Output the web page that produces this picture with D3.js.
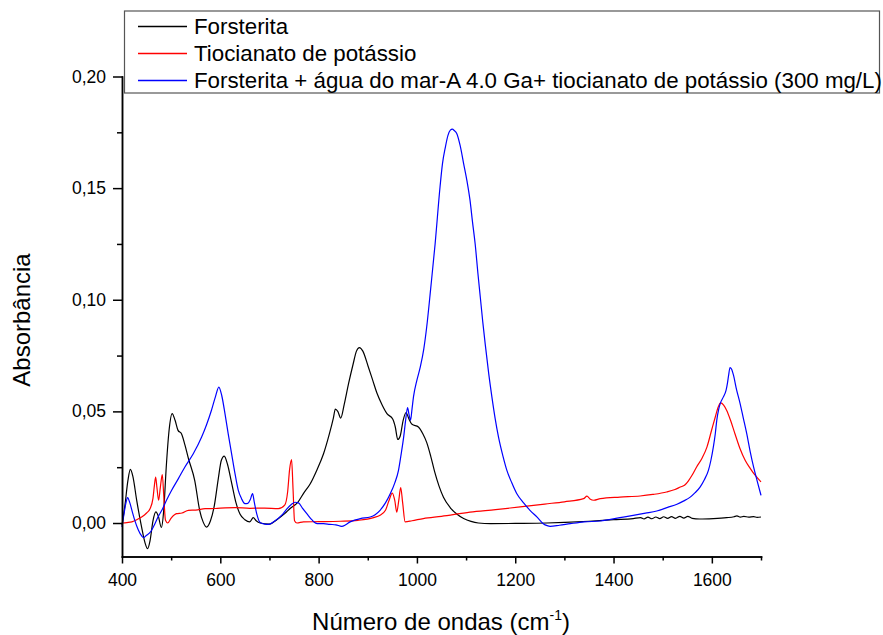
<!DOCTYPE html>
<html>
<head>
<meta charset="utf-8">
<script src="https://cdn.jsdelivr.net/npm/d3@7/dist/d3.min.js"></script>
<style>
  body { margin: 0; background: #fff; }
  svg { font-family: "Liberation Sans", Arial, sans-serif; }
  .axis path, .axis line { stroke: #000; stroke-width: 1.5; }
  .axis text { font-size: 17.5px; fill: #000; }
  .curve { fill: none; stroke-width: 1.2; }
</style>
</head>
<body>
<svg width="883" height="635"></svg>
<script>
// wavenumber (cm-1), absorbance
const forsterita = [
  [400,-0.001],[406,0.008],[412,0.019],[417,0.024],[422,0.021],[430,0.01],[440,-0.002],[447,-0.009],
  [452,-0.0115],[457,-0.008],[463,0.001],[469,0.005],[474,0.003],[480,-0.002],[485,0.006],[490,0.025],
  [496,0.042],[502,0.049],[508,0.046],[514,0.0415],[521,0.040],[528,0.035],[535,0.029],[548,0.019],
  [558,0.0057],[565,0.0005],[572,-0.0018],[580,0.001],[588,0.008],[596,0.020],[602,0.028],[608,0.030],
  [615,0.026],[623,0.018],[632,0.009],[640,0.004],[650,0.0015],[660,0.0005],[667,0.0024],[673,0.001],
  [681,0],[700,-0.0005],[715,0.0015],[731,0.0042],[742,0.0065],[758,0.0094],[770,0.0135],[783,0.0176],
  [797,0.024],[810,0.031],[822,0.040],[830,0.047],[834,0.051],[839,0.05],[845,0.047],[852,0.053],
  [861,0.0625],[870,0.071],[877,0.077],[883,0.0786],[890,0.077],[901,0.070],[910,0.064],[919,0.058],
  [929,0.053],[939,0.049],[951,0.0465],[956,0.043],[961,0.0374],[966,0.039],[972,0.046],[978,0.0495],
  [983,0.047],[990,0.0442],[1003,0.043],[1012,0.040],[1020,0.036],[1028,0.030],[1036,0.023],[1045,0.0165],
  [1054,0.0115],[1068,0.0068],[1081,0.004],[1095,0.002],[1110,0.0007],[1125,0],[1150,-0.0003],[1200,-0.0002],
  [1264,0],[1300,0.0003],[1350,0.0008],[1400,0.0015],[1440,0.002],[1455,0.0024],[1462,0.0018],[1470,0.0026],
  [1478,0.0019],[1486,0.0027],[1494,0.002],[1502,0.0028],[1510,0.0021],[1518,0.0029],[1526,0.0021],[1535,0.003],
  [1543,0.0022],[1551,0.003],[1560,0.0021],[1575,0.0018],[1603,0.002],[1630,0.0024],[1645,0.0028],[1651,0.0032],
  [1658,0.0026],[1665,0.003],[1675,0.0026],[1685,0.0029],[1692,0.0025],[1700,0.0027]
];

const tiocianato = [
  [400,0],[410,0.0002],[420,0.0005],[430,0.0015],[440,0.0027],[450,0.0045],[457,0.0064],[463,0.011],
  [466,0.017],[468.5,0.0206],[471,0.016],[474.5,0.0102],[478,0.016],[482,0.0217],[485,0.012],[488.5,0.0012],
  [493,0],[500,0.0022],[511,0.0042],[522,0.0045],[535,0.0057],[550,0.0058],[569,0.0064],[590,0.0065],
  [610,0.0068],[630,0.0069],[660,0.0066],[690,0.0067],[718,0.0064],[731,0.008],[737,0.014],[741,0.024],
  [745,0.0284],[748,0.015],[751,0.001],[756,0],[769,0.0005],[800,0.0006],[844,0.0008],[880,0.0012],
  [912,0.0024],[925,0.0035],[936,0.0057],[943,0.010],[950,0.0134],[955,0.010],[959,0.0049],[963,0.010],
  [967,0.0159],[971,0.009],[976,0.0005],[990,0.001],[1013,0.002],[1050,0.003],[1108,0.0049],[1160,0.006],
  [1210,0.0072],[1260,0.0085],[1300,0.0095],[1339,0.0109],[1346,0.012],[1352,0.0108],[1360,0.0102],[1373,0.0109],
  [1413,0.0116],[1454,0.0121],[1480,0.0128],[1508,0.0139],[1525,0.015],[1536,0.0161],[1545,0.017],[1552,0.0188],
  [1560,0.0215],[1569,0.0251],[1580,0.029],[1590,0.034],[1600,0.042],[1607,0.0475],[1613,0.052],[1618,0.0538],
  [1624,0.0528],[1630,0.0505],[1638,0.046],[1647,0.040],[1657,0.0335],[1668,0.028],[1678,0.0245],[1688,0.0214],
  [1700,0.0184]
];

const mistura = [
  [400,-0.0018],[404,0.004],[408,0.009],[411.4,0.0114],[416,0.009],[421,0.005],[426,0.0012],[433,-0.003],
  [440,-0.0058],[444,-0.0065],[450,-0.0055],[458,-0.004],[467,-0.0003],[474,0.003],[481,0.0057],[490,0.010],
  [501,0.0147],[515,0.020],[528,0.0251],[545,0.031],[562,0.0385],[572,0.044],[582,0.0505],[590,0.0565],
  [597,0.0609],[603,0.057],[609.5,0.049],[616,0.040],[623,0.031],[630,0.022],[636.5,0.0147],[643,0.011],
  [650,0.0087],[656,0.0088],[661,0.0105],[665.6,0.0132],[669,0.0095],[674,0.0042],[681,0.0002],[690,-0.0005],
  [698,-0.0006],[710,0.0008],[725,0.0035],[735,0.0062],[745,0.0084],[752,0.0093],[759,0.009],[767,0.0067],
  [776,0.0042],[786,0.0015],[797,-0.0003],[810,-0.0003],[823,-0.0006],[835,-0.0008],[847,-0.0015],[855,-0.0008],
  [864,0.0005],[875,0.0014],[885,0.002],[905,0.0027],[915,0.0037],[925,0.0057],[936,0.009],[946,0.0132],
  [955,0.018],[962.5,0.0236],[968,0.031],[973,0.0385],[977,0.046],[981,0.0517],[984,0.0485],[987,0.046],
  [990,0.051],[993,0.0565],[1000,0.064],[1007,0.07],[1014,0.078],[1020,0.088],[1028,0.105],[1037,0.125],
  [1047,0.1505],[1052,0.161],[1058,0.1685],[1063,0.1735],[1068,0.176],[1072,0.1764],[1076,0.1758],[1081,0.1745],
  [1088,0.169],[1095,0.161],[1102,0.153],[1108,0.1446],[1113,0.135],[1118.5,0.125],[1124,0.112],[1129,0.101],
  [1134,0.09],[1139,0.08],[1146,0.067],[1152.5,0.0565],[1159,0.047],[1166,0.0385],[1175,0.03],[1183,0.0236],
  [1193,0.018],[1203,0.0132],[1217,0.009],[1230,0.0057],[1245,0.0025],[1257,-0.0003],[1265,-0.0012],[1271,-0.0015],
  [1290,-0.001],[1312,-0.0003],[1340,0.0005],[1373,0.0009],[1413,0.0024],[1440,0.0034],[1465,0.0044],[1488,0.0054],
  [1510,0.007],[1529,0.0084],[1542,0.0098],[1556,0.0116],[1566,0.0136],[1576,0.0161],[1585,0.0195],[1593,0.0236],
  [1598,0.028],[1603,0.034],[1607,0.04],[1610,0.046],[1614,0.051],[1617,0.0535],[1623.5,0.0565],[1629,0.0595],
  [1632,0.063],[1634,0.066],[1637,0.0696],[1640,0.069],[1644,0.0662],[1650,0.06],[1657.5,0.0535],[1664,0.047],
  [1671,0.040],[1678,0.032],[1685,0.025],[1692,0.019],[1700,0.0124]
];

const seriesNames = [
  'Forsterita',
  'Tiocianato de potássio',
  'Forsterita + água do mar-A 4.0 Ga+ tiocianato de potássio (300 mg/L)'
];
const seriesColors = ['#000000', '#ff0000', '#0000ff'];

const xMajor = [400, 600, 800, 1000, 1200, 1400, 1600];
const xMinor = [500, 700, 900, 1100, 1300, 1500, 1700];
const yMajor = [0, 0.05, 0.10, 0.15, 0.20];
const yMinor = [0.025, 0.075, 0.125, 0.175];

const svg = d3.select('svg');

const plotLeft = 122, plotRight = 761, plotTop = 76.5, plotBottom = 556.5;

const xScale = d3.scaleLinear().domain([400, 1700]).range([plotLeft, plotRight]);
const yScale = d3.scaleLinear().domain([-0.015, 0.20]).range([plotBottom, plotTop]);

const fmt = d => d3.format('.2f')(d).replace('.', ',');

// curves
const line = d3.line()
  .x(d => xScale(d[0]))
  .y(d => yScale(d[1]))
  .curve(d3.curveMonotoneX);

[forsterita, tiocianato, mistura].forEach((s, i) => {
  svg.append('path')
    .attr('class', 'curve')
    .attr('d', line(s))
    .style('stroke', seriesColors[i]);
});

// x axis
svg.append('g')
  .attr('class', 'axis')
  .attr('transform', `translate(0, ${plotBottom})`)
  .call(d3.axisBottom(xScale).tickValues(xMinor).tickSize(4).tickSizeOuter(0).tickFormat(''));

const xAx = svg.append('g')
  .attr('class', 'axis')
  .attr('transform', `translate(0, ${plotBottom})`)
  .call(d3.axisBottom(xScale).tickValues(xMajor).tickSize(7).tickSizeOuter(0).tickPadding(10)
    .tickFormat(d3.format('d')));
xAx.selectAll('text').attr('dy', '0.71em');

// y axis
svg.append('g')
  .attr('class', 'axis')
  .attr('transform', `translate(${plotLeft}, 0)`)
  .call(d3.axisLeft(yScale).tickValues(yMinor).tickSize(5).tickSizeOuter(0).tickFormat(''));

svg.append('g')
  .attr('class', 'axis')
  .attr('transform', `translate(${plotLeft}, 0)`)
  .call(d3.axisLeft(yScale).tickValues(yMajor).tickSize(9).tickSizeOuter(0).tickPadding(7).tickFormat(fmt));

svg.selectAll('.axis .domain').attr('stroke-linecap', 'square');

// axis titles
const xt = svg.append('text')
  .attr('x', 441)
  .attr('y', 630)
  .attr('text-anchor', 'middle')
  .style('font-size', '24px');
xt.append('tspan').text('Número de ondas (cm');
xt.append('tspan').attr('dy', -10).style('font-size', '14px').text('-1');
xt.append('tspan').attr('dy', 10).text(')');

svg.append('text')
  .attr('transform', 'translate(30, 320) rotate(-90)')
  .attr('text-anchor', 'middle')
  .style('font-size', '24px')
  .text('Absorbância');

// legend
const legend = svg.append('g');
legend.append('rect')
  .attr('x', 124.5)
  .attr('y', 11)
  .attr('width', 755)
  .attr('height', 82)
  .attr('fill', '#fff')
  .attr('stroke', '#555')
  .attr('stroke-width', 1.2);

const legendY = [26.5, 53.5, 80.5];
seriesNames.forEach((name, i) => {
  legend.append('line')
    .attr('x1', 138).attr('x2', 187)
    .attr('y1', legendY[i]).attr('y2', legendY[i])
    .style('stroke', seriesColors[i])
    .style('stroke-width', 1.4);
  legend.append('text')
    .attr('x', 194)
    .attr('y', legendY[i] + 7.5)
    .style('font-size', '22.3px')
    .text(name);
});
</script>
</body>
</html>
